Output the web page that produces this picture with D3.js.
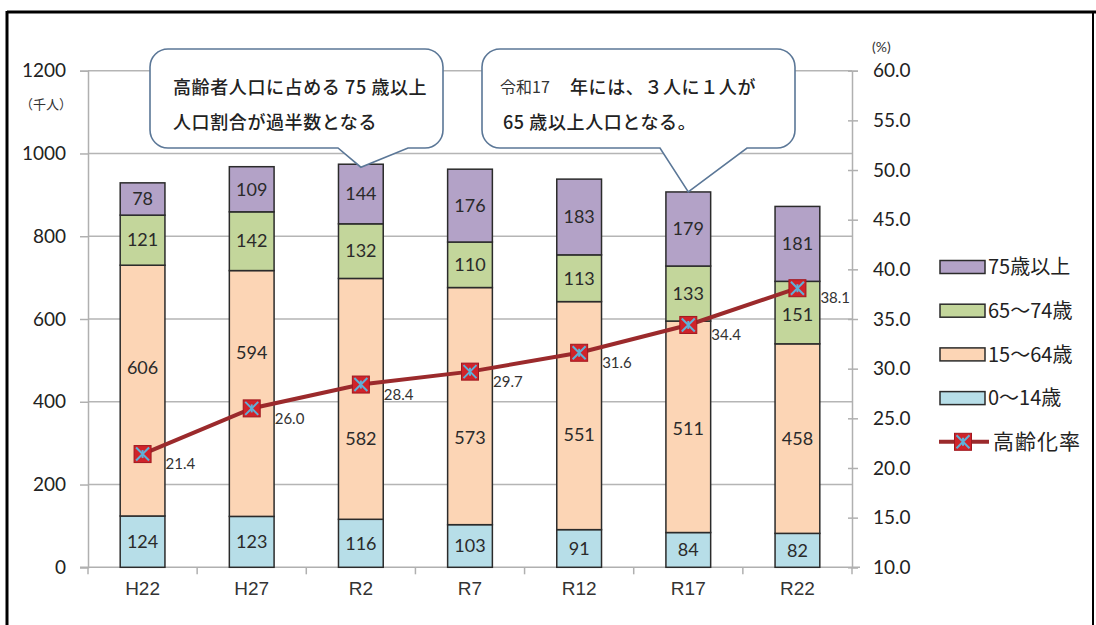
<!DOCTYPE html>
<html>
<head>
<meta charset="utf-8">
<script src="https://cdn.jsdelivr.net/npm/d3@7"></script>
<style>
  html, body { margin: 0; padding: 0; background: #fff; }
  svg { display: block; }
</style>
</head>
<body>
<script>
// ---------- data ----------
const categories = ["H22", "H27", "R2", "R7", "R12", "R17", "R22"];
const age0to14   = [124, 123, 116, 103, 91, 84, 82];
const age15to64  = [606, 594, 582, 573, 551, 511, 458];
const age65to74  = [121, 142, 132, 110, 113, 133, 151];
const age75plus  = [78, 109, 144, 176, 183, 179, 181];
const agingRate  = [21.4, 26.0, 28.4, 29.7, 31.6, 34.4, 38.1];
const seriesNames = ["0〜14歳", "15〜64歳", "65〜74歳", "75歳以上"];
const rateName = "高齢化率";
const leftTicks = [0, 200, 400, 600, 800, 1000, 1200];
const rightTicks = [10, 15, 20, 25, 30, 35, 40, 45, 50, 55, 60];
const leftUnit = "（千人）";
const rightUnit = "(%)";
const callout1Lines = ["高齢者人口に占める 75 歳以上", "人口割合が過半数となる"];
const callout1Target = "R2";
const callout2Small = "令和17";
const callout2Lines = ["年には、３人に１人が", "65 歳以上人口となる。"];
const callout2Target = "R17";

// ---------- setup ----------
const W = 1096, H = 625;
const colors = {"0〜14歳": "#b7dee8", "15〜64歳": "#fcd5b5", "65〜74歳": "#c3d69b", "75歳以上": "#b3a2c7"};
const numFont = "Lato, 'Noto Sans', sans-serif";
const jpFont = "'Noto Sans CJK JP', 'Noto Sans', sans-serif";

const svg = d3.select("body").append("svg").attr("width", W).attr("height", H);

const plotL = 88, plotR = 852, plotT = 70.7, plotB = 567.3;
const x = d3.scaleBand().domain(categories).range([plotL, plotR]).paddingInner(0.59).paddingOuter(0.295);
const y = d3.scaleLinear().domain([0, 1200]).range([plotB, plotT]);
const y2 = d3.scaleLinear().domain([10, 60]).range([plotB, plotT]);

const rows = categories.map((c, i) => ({
  cat: c,
  "0〜14歳": age0to14[i], "15〜64歳": age15to64[i], "65〜74歳": age65to74[i], "75歳以上": age75plus[i],
  rate: agingRate[i]
}));
const stacked = d3.stack().keys(seriesNames)(rows);

// frame
svg.append("line").attr("x1", 7).attr("x2", W).attr("y1", 12).attr("y2", 12).attr("stroke", "#000").attr("stroke-width", 3);
svg.append("line").attr("x1", 7).attr("x2", 7).attr("y1", 11).attr("y2", H).attr("stroke", "#000").attr("stroke-width", 3);
svg.append("line").attr("x1", 1093).attr("x2", 1093).attr("y1", 11).attr("y2", H).attr("stroke", "#000").attr("stroke-width", 2);

// gridlines
svg.append("g").selectAll("line").data(leftTicks.filter(t => t > 0)).join("line")
  .attr("x1", plotL).attr("x2", plotR).attr("y1", d => y(d)).attr("y2", d => y(d))
  .attr("stroke", "#b5b5b5").attr("stroke-width", 1.5);

// left axis
const gL = svg.append("g").attr("transform", `translate(${plotL},0)`)
  .call(d3.axisLeft(y).tickValues(leftTicks).tickSize(8).tickPadding(14).tickFormat(d3.format("d")));
gL.select(".domain").attr("stroke", "#b0b0b0").attr("stroke-width", 1.5);
gL.selectAll(".tick line").attr("stroke", "#b0b0b0").attr("stroke-width", 1.5);
gL.selectAll(".tick text").attr("font-family", numFont).attr("font-size", 19).attr("fill", "#222");
svg.append("text").attr("x", 46).attr("y", 109).attr("text-anchor", "middle")
  .attr("font-family", jpFont).attr("font-size", 13).attr("fill", "#333").text(leftUnit);

// right axis
const gR = svg.append("g").attr("transform", `translate(${plotR},0)`)
  .call(d3.axisRight(y2).tickValues(rightTicks).tickSize(6).tickPadding(15).tickFormat(d3.format(".1f")));
gR.select(".domain").attr("stroke", "#b0b0b0").attr("stroke-width", 1.5);
gR.selectAll(".tick line").attr("x1", -4).attr("stroke", "#b0b0b0").attr("stroke-width", 1.5);
gR.selectAll(".tick text").attr("font-family", numFont).attr("font-size", 19).attr("fill", "#222");
svg.append("text").attr("x", 872).attr("y", 52)
  .attr("font-family", numFont).attr("font-size", 14).attr("fill", "#333").text(rightUnit);

// bottom axis
const step = x.step();
const boundaries = d3.range(categories.length + 1).map(i => plotL + i * step);
svg.append("line").attr("x1", 80).attr("x2", plotR + 8).attr("y1", plotB).attr("y2", plotB)
  .attr("stroke", "#b0b0b0").attr("stroke-width", 1.5);
svg.append("g").selectAll("line").data(boundaries).join("line")
  .attr("x1", d => d).attr("x2", d => d).attr("y1", plotB).attr("y2", plotB + 7)
  .attr("stroke", "#b0b0b0").attr("stroke-width", 1.5);
svg.append("g").selectAll("text").data(categories).join("text")
  .attr("x", d => x(d) + x.bandwidth() / 2).attr("y", plotB + 28).attr("text-anchor", "middle")
  .attr("font-family", "'Liberation Sans', Arial, sans-serif").attr("font-size", 19).attr("fill", "#333")
  .text(d => d);

// bars
const gBars = svg.append("g");
stacked.forEach(s => {
  gBars.append("g").selectAll("rect").data(s).join("rect")
    .attr("x", d => x(d.data.cat)).attr("width", x.bandwidth())
    .attr("y", d => y(d[1])).attr("height", d => y(d[0]) - y(d[1]))
    .attr("fill", colors[s.key]).attr("stroke", "#2b2b2b").attr("stroke-width", 1.5);
});

// segment labels (avoid the rate marker when it falls inside a segment)
function labelY(d) {
  const top = y(d[1]), bot = y(d[0]), c = (top + bot) / 2;
  const m = y2(d.data.rate);
  if (m < top || m > bot) return c;
  const sub = (m - top) > (bot - m) ? (top + m) / 2 : (m + bot) / 2;
  return 0.75 * sub + 0.25 * c;
}
stacked.forEach(s => {
  gBars.append("g").selectAll("text").data(s).join("text")
    .attr("x", d => x(d.data.cat) + x.bandwidth() / 2)
    .attr("y", d => labelY(d)).attr("dy", "0.35em").attr("text-anchor", "middle")
    .attr("font-family", numFont).attr("font-size", 18).attr("fill", "#2a2a2a")
    .text(d => d[1] - d[0]);
});

// rate line
const cx = c => x(c) + x.bandwidth() / 2;
const line = d3.line().x(d => cx(d.cat)).y(d => y2(d.rate));
svg.append("path").datum(rows).attr("d", line).attr("fill", "none")
  .attr("stroke", "#9b2a2c").attr("stroke-width", 4);

function marker(g, mx, my) {
  const s = 8.5;
  g.append("rect").attr("x", mx - s).attr("y", my - s).attr("width", 2 * s).attr("height", 2 * s)
    .attr("fill", "#d0232a").attr("stroke", "#a01820").attr("stroke-width", 1);
  g.append("path").attr("d", `M${mx - s + 2},${my - s + 2}L${mx + s - 2},${my + s - 2}M${mx + s - 2},${my - s + 2}L${mx - s + 2},${my + s - 2}`)
    .attr("stroke", "#5fb0d8").attr("stroke-width", 2);
  g.append("line").attr("x1", mx).attr("x2", mx).attr("y1", my - 4).attr("y2", my + 4)
    .attr("stroke", "#5fb0d8").attr("stroke-width", 2);
}
const gM = svg.append("g");
rows.forEach(r => marker(gM, cx(r.cat), y2(r.rate)));
svg.append("g").selectAll("text").data(rows).join("text")
  .attr("x", d => cx(d.cat) + 23).attr("y", d => y2(d.rate) + 10).attr("dy", "0.35em")
  .attr("font-family", numFont).attr("font-size", 15).attr("fill", "#333")
  .text(d => d3.format(".1f")(d.rate));

// callouts
function calloutPath(x0, y0, x1, y1, r, bx0, bx1, tx, ty) {
  const p = d3.path();
  p.moveTo(x0 + r, y0);
  p.lineTo(x1 - r, y0);
  p.arcTo(x1, y0, x1, y0 + r, r);
  p.lineTo(x1, y1 - r);
  p.arcTo(x1, y1, x1 - r, y1, r);
  p.lineTo(bx1, y1);
  p.lineTo(tx, ty);
  p.lineTo(bx0, y1);
  p.lineTo(x0 + r, y1);
  p.arcTo(x0, y1, x0, y1 - r, r);
  p.lineTo(x0, y0 + r);
  p.arcTo(x0, y0, x0 + r, y0, r);
  p.closePath();
  return p.toString();
}
const totalOf = c => { const i = categories.indexOf(c); return age0to14[i] + age15to64[i] + age65to74[i] + age75plus[i]; };

svg.append("path")
  .attr("d", calloutPath(150, 49, 443, 148, 18, 338, 408, cx(callout1Target), y(totalOf(callout1Target)) + 3))
  .attr("fill", "#fff").attr("stroke", "#5b7797").attr("stroke-width", 1.6);
svg.append("path")
  .attr("d", calloutPath(482, 49, 795, 148, 18, 660, 747, cx(callout2Target), y(totalOf(callout2Target))))
  .attr("fill", "#fff").attr("stroke", "#5b7797").attr("stroke-width", 1.6);

svg.append("g").selectAll("text").data(callout1Lines).join("text")
  .attr("x", 173).attr("y", (d, i) => 94 + i * 35)
  .attr("font-family", jpFont).attr("font-size", 18).attr("font-weight", 500).attr("fill", "#222")
  .attr("letter-spacing", 0.6)
  .text(d => d);
svg.append("text").attr("x", 500).attr("y", 93)
  .attr("font-family", jpFont).attr("font-size", 16).attr("fill", "#333").text(callout2Small);
svg.append("g").selectAll("text").data(callout2Lines).join("text")
  .attr("x", (d, i) => i === 0 ? 570 : 503).attr("y", (d, i) => 94 + i * 35)
  .attr("font-family", jpFont).attr("font-size", 18).attr("font-weight", 500).attr("fill", "#222")
  .attr("letter-spacing", 0.6)
  .text(d => d);

// legend
const legendItems = seriesNames.slice().reverse();
const lg = svg.append("g");
legendItems.forEach((k, i) => {
  const ly = 267 + i * 43.7;
  lg.append("rect").attr("x", 940).attr("y", ly - 6.5).attr("width", 45).attr("height", 13)
    .attr("fill", colors[k]).attr("stroke", "#2b2b2b").attr("stroke-width", 1.5);
  lg.append("text").attr("x", 988).attr("y", ly).attr("dy", "0.36em")
    .attr("font-family", jpFont).attr("font-size", 20).attr("fill", "#222").text(k);
});
const ly5 = 267 + 4 * 43.7;
lg.append("line").attr("x1", 939).attr("x2", 989).attr("y1", ly5).attr("y2", ly5)
  .attr("stroke", "#9b2a2c").attr("stroke-width", 4);
marker(lg, 963, ly5);
lg.append("text").attr("x", 993).attr("y", ly5).attr("dy", "0.36em")
  .attr("font-family", jpFont).attr("font-size", 21).attr("fill", "#222").attr("letter-spacing", 1).text(rateName);
</script>
</body>
</html>
